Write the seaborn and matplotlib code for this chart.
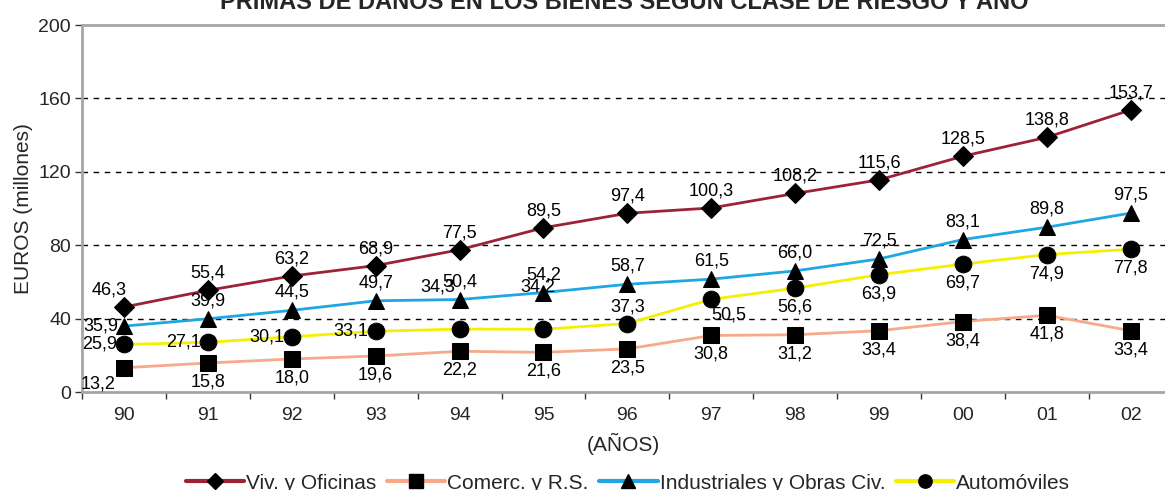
import numpy as np
import pandas as pd
import seaborn as sns
import matplotlib.pyplot as plt
from matplotlib.lines import Line2D

# datos (millones de euros)
anios = ['90', '91', '92', '93', '94', '95', '96', '97', '98', '99', '00', '01', '02']
viv = [46.3, 55.4, 63.2, 68.9, 77.5, 89.5, 97.4, 100.3, 108.2, 115.6, 128.5, 138.8, 153.7]
comerc = [13.2, 15.8, 18.0, 19.6, 22.2, 21.6, 23.5, 30.8, 31.2, 33.4, 38.4, 41.8, 33.4]
indus = [35.9, 39.9, 44.5, 49.7, 50.4, 54.2, 58.7, 61.5, 66.0, 72.5, 83.1, 89.8, 97.5]
auto = [25.9, 27.1, 30.1, 33.1, 34.3, 34.2, 37.3, 50.5, 56.6, 63.9, 69.7, 74.9, 77.8]

series = ['Viv. y Oficinas', 'Comerc. y R.S.', 'Industriales y Obras Civ.', 'Automóviles']
valores = [viv, comerc, indus, auto]
colores = ['#9b2335', '#f7a98a', '#1fa7e3', '#f5f000']
marcadores = ['D', 's', '^', 'o']
tam_marca = [10, 12, 12, 12]

# posicion de las etiquetas (desplazamiento en pixeles, alineacion)
pos_etq = {
    'Viv. y Oficinas': [(-15, 17, 'center')] + [(0, 17, 'center')] * 12,
    'Comerc. y R.S.': [(-8, -16, 'right')] + [(0, -19, 'center')] * 12,
    'Industriales y Obras Civ.': [(-6, 0, 'right')] + [(0, 18, 'center')] * 12,
    'Automóviles': [(-7, 0, 'right')] * 4 + [(-22, 42, 'center'), (-6, 42, 'center'),
                    (0, 17, 'center'), (18, -16, 'center')] + [(0, -19, 'center')] * 5,
}

df = pd.concat([pd.DataFrame({'pos': np.arange(len(anios)), 'anio': anios,
                              'valor': v, 'serie': s})
                for s, v in zip(series, valores)], ignore_index=True)

sns.set_style('white')
plt.rcParams['font.family'] = ['Liberation Sans', 'DejaVu Sans']

fig = plt.figure(figsize=(11.65, 4.9), dpi=100)
ax = fig.add_axes([82 / 1165, 98 / 490, 1 - 82 / 1165, 367 / 490])

for s, c, m, ms in zip(series, colores, marcadores, tam_marca):
    d = df[df['serie'] == s]
    sns.lineplot(data=d, x='pos', y='valor', color=c, linewidth=2,
                 marker=m, markersize=ms, markerfacecolor='black',
                 markeredgecolor='black', ax=ax, zorder=3)
    for (_, r), (dx, dy, ha) in zip(d.iterrows(), pos_etq[s]):
        ax.annotate(f"{r['valor']:.1f}".replace('.', ','), (r['pos'], r['valor']),
                    xytext=(dx, dy), textcoords='offset pixels', ha=ha, va='center',
                    fontsize=13, color='black', zorder=4)

ax.set_xlim(-0.5, -0.5 + (1165 - 82) / 83.9)
ax.set_ylim(0, 200)
ax.set_yticks([0, 40, 80, 120, 160, 200])
ax.set_xticks(range(len(anios)))
ax.set_xticklabels(anios)
ax.set_xticks(np.arange(-0.5, 12, 1), minor=True)
ax.tick_params(axis='x', which='major', length=0, pad=11, labelsize=14)
ax.tick_params(axis='x', which='minor', length=5, width=1, direction='out', color='#333333', bottom=True)
ax.tick_params(axis='y', length=5, width=1, direction='out', color='#333333', left=True, pad=3, labelsize=14)

for yv in [40, 80, 120, 160]:
    ax.axhline(yv, color='black', linestyle=(0, (4, 4)), linewidth=1, zorder=1)

for lado in ['left', 'top', 'bottom']:
    ax.spines[lado].set_color('#a6a6a6')
    ax.spines[lado].set_linewidth(2)
ax.spines['right'].set_visible(False)

ax.set_xlabel('(AÑOS)', fontsize=15, labelpad=6)
ax.set_ylabel('EUROS (millones)', fontsize=15, labelpad=4)

fig.text(624 / 1165, 1 - 9 / 490, 'PRIMAS DE DAÑOS EN LOS BIENES SEGÚN CLASE DE RIESGO Y AÑO',
         ha='center', va='baseline', fontsize=17, fontweight='bold')

handles = [Line2D([0], [0], color=c, linewidth=3, marker=m, markersize=ms * 0.8,
                  markerfacecolor='black', markeredgecolor='black')
           for c, m, ms in zip(colores, marcadores, tam_marca)]
fig.legend(handles, series, loc='center', bbox_to_anchor=(628 / 1165, 1 - 483 / 490),
           ncol=4, frameon=False, fontsize=15, handlelength=2.8, handletextpad=0.1,
           columnspacing=0.5)

fig.savefig('out.png', dpi=100)
